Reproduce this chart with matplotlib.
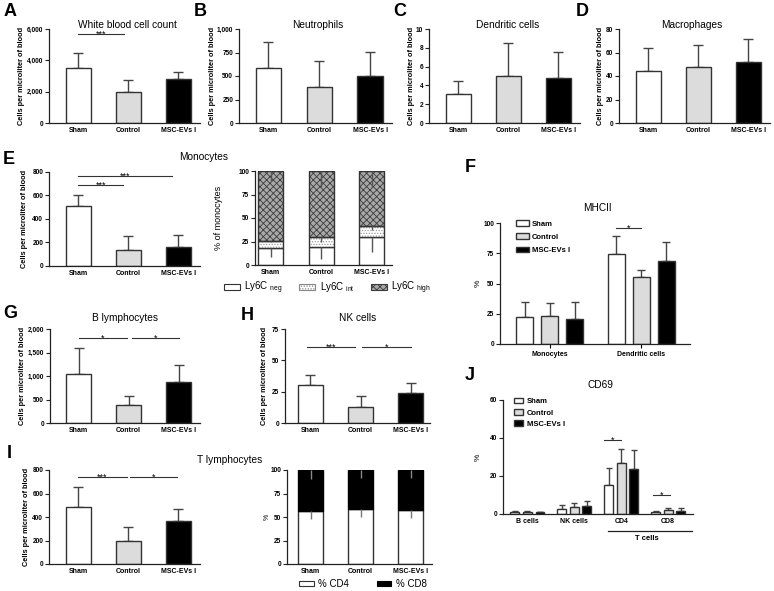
import numpy as np
import matplotlib
matplotlib.use('Agg')
import matplotlib.pyplot as plt
from matplotlib.patches import Patch

plt.rcParams['font.family'] = ['Liberation Sans', 'DejaVu Sans']
plt.rcParams['mathtext.fontset'] = 'custom'
plt.rcParams['mathtext.rm'] = 'Liberation Sans'
plt.rcParams['mathtext.default'] = 'regular'
plt.rcParams['hatch.linewidth'] = 0.6

# ---------------- data ----------------
groups = ['Sham', 'Control', 'MSC-EVs I']
wbc = [3490, 1950, 2790]
wbc_err = [970, 770, 470]
neut = [589, 385, 503]
neut_err = [278, 276, 251]
dc = [3.1, 5.05, 4.8]
dc_err = [1.4, 3.45, 2.75]
mac = [44, 47.5, 52]
mac_err = [20, 19, 19.5]
mono = [513, 134, 164]
mono_err = [89, 124, 97]
ly6c_neg = [18, 19, 30]
ly6c_int = [8, 11, 11]
ly6c_high = [74, 70, 59]
ly6c_neg_err = [10, 13, 16]
ly6c_int_err = [2, 5, 4]
ly6c_high_err = [11, 17, 17]
mhc_groups = ['Monocytes', 'Dendritic cells']
mhc_sham = [22, 74]
mhc_ctrl = [23, 55]
mhc_msc = [21, 69]
mhc_sham_err = [13, 15]
mhc_ctrl_err = [11, 6]
mhc_msc_err = [14, 15]
b_lym = [1040, 383, 872]
b_err = [550, 190, 360]
nk = [30, 12.8, 24]
nk_err = [8.5, 8.7, 8]
t_lym = [485, 196, 366]
t_err = [170, 120, 102]
cd4 = [56.7, 58.5, 57]
cd4_err = [8.5, 8.5, 8]
cd8 = [43.3, 41.5, 43]
cd8_err = [10, 9, 9]
cd69_groups = ['B cells', 'NK cells', 'CD4', 'CD8']
cd69_sham = [1.2, 2.6, 15.5, 1.3]
cd69_ctrl = [1.2, 3.6, 27, 1.9]
cd69_msc = [0.9, 4.3, 23.8, 1.7]
cd69_sham_err = [0.4, 2.1, 8.9, 0.5]
cd69_ctrl_err = [0.4, 2.3, 7, 1.4]
cd69_msc_err = [0.3, 2.6, 9.9, 1.4]

FILL = ['white', '#dcdcdc', 'black']
EDGE = '#333333'
ERRC = '#444444'

W, H = 774, 591
fig = plt.figure(figsize=(W / 100, H / 100), dpi=100)


def ax_at(x0, y0, x1, y1):
    ax = fig.add_axes([x0 / W, 1 - y1 / H, (x1 - x0) / W, (y1 - y0) / H])
    for s in ['top', 'right']:
        ax.spines[s].set_visible(False)
    for s in ['left', 'bottom']:
        ax.spines[s].set_linewidth(0.9)
        ax.spines[s].set_color('#222222')
    ax.tick_params(axis='y', length=3, width=0.8, labelsize=4.7, pad=1.2, color='#222222')
    ax.tick_params(axis='x', length=0, pad=3)
    ax._box = (x0, y0, x1, y1)
    return ax


def ftext(x, y, s, **kw):
    return fig.text(x / W, 1 - y / H, s, **kw)


def ylab(ax, x, s, bold=True, fs=5.3):
    x0, y0, x1, y1 = ax._box
    ftext(x, (y0 + y1) / 2, s, rotation=90, ha='center', va='center',
          fontsize=fs, fontweight='bold' if bold else 'normal')


def yticks(ax, ticks, labels, lim):
    ax.set_ylim(*lim)
    ax.set_yticks(ticks)
    ax.set_yticklabels(labels, fontweight='bold')


def sig(ax, x0, x1, y, s, fs=6.5):
    ax.plot([x0, x1], [y, y], color='#333333', lw=0.8, clip_on=False)
    ax.annotate(s, xy=((x0 + x1) / 2, y), xytext=(0, -1.8), textcoords='offset points',
                ha='center', va='baseline', fontsize=fs)


def simple(ax, vals, errs, xlim):
    x = np.arange(3)
    ax.errorbar(x, vals, yerr=[np.zeros(3), errs], fmt='none', ecolor=ERRC,
                elinewidth=1, capsize=3.5, capthick=1, zorder=1)
    ax.bar(x, vals, width=0.5, color=FILL, edgecolor=EDGE, linewidth=1, zorder=2)
    ax.set_xlim(*xlim)
    ax.set_xticks(x)
    ax.set_xticklabels(groups, fontsize=5, fontweight='bold')


XL = (-0.58, 2.43)

# ---------------- row 1 ----------------
axA = ax_at(49, 29, 200, 123)
simple(axA, wbc, wbc_err, XL)
yticks(axA, [0, 2000, 4000, 6000], ['0', '2,000', '4,000', '6,000'], (0, 6000))
sig(axA, 0, 0.92, 5680, '***')
ylab(axA, 22, 'Cells per microliter of blood')
ftext(127, 25, 'White blood cell count', fontsize=7.3, ha='center', va='center')
ftext(10, 12, 'A', fontsize=13, fontweight='bold', ha='center', va='center')

axB = ax_at(239, 29, 392, 123)
simple(axB, neut, neut_err, XL)
yticks(axB, [0, 250, 500, 750, 1000], ['0', '250', '500', '750', '1,000'], (0, 1000))
ylab(axB, 212, 'Cells per microliter of blood')
ftext(318, 25, 'Neutrophils', fontsize=7.3, ha='center', va='center')
ftext(200, 12, 'B', fontsize=13, fontweight='bold', ha='center', va='center')

axC = ax_at(429, 29, 580, 123)
simple(axC, dc, dc_err, XL)
yticks(axC, [0, 2, 4, 6, 8, 10], ['0', '2', '4', '6', '8', '10'], (0, 10))
ylab(axC, 411, 'Cells per microliter of blood')
ftext(508, 25, 'Dendritic cells', fontsize=7.3, ha='center', va='center')
ftext(400, 12, 'C', fontsize=13, fontweight='bold', ha='center', va='center')

axD = ax_at(619, 29, 770, 123)
simple(axD, mac, mac_err, XL)
yticks(axD, [0, 20, 40, 60, 80], ['0', '20', '40', '60', '80'], (0, 80))
ylab(axD, 600, 'Cells per microliter of blood')
ftext(692, 25, 'Macrophages', fontsize=7.3, ha='center', va='center')
ftext(582, 12, 'D', fontsize=13, fontweight='bold', ha='center', va='center')

# ---------------- E ----------------
axE = ax_at(49, 172, 200, 266)
simple(axE, mono, mono_err, XL)
yticks(axE, [0, 200, 400, 600, 800], ['0', '200', '400', '600', '800'], (0, 800))
sig(axE, 0, 0.9, 689, '***')
sig(axE, 0, 1.87, 766, '***')
ylab(axE, 25, 'Cells per microliter of blood')
ftext(204, 157, 'Monocytes', fontsize=7.3, ha='center', va='center')
ftext(9, 160, 'E', fontsize=13, fontweight='bold', ha='center', va='center')

axE2 = ax_at(255, 171, 392, 265)
x = np.arange(3)
neg = np.array(ly6c_neg, float)
inte = np.array(ly6c_int, float)
high = np.array(ly6c_high, float)
axE2.bar(x, neg, width=0.5, color='white', edgecolor=EDGE, linewidth=1, zorder=2)
axE2.bar(x, inte, bottom=neg, width=0.5, color='white', edgecolor='#9a9a9a',
         hatch='......', linewidth=0, zorder=2)
axE2.bar(x, high, bottom=neg + inte, width=0.5, color='#a8a8a8', edgecolor='#3c3c3c',
         hatch='xxxxx', linewidth=0, zorder=2)
axE2.bar(x, inte, bottom=neg, width=0.5, color='none', edgecolor=EDGE, linewidth=1, zorder=3)
axE2.bar(x, high, bottom=neg + inte, width=0.5, color='none', edgecolor=EDGE, linewidth=1, zorder=3)
axE2.errorbar(x, neg, yerr=[ly6c_neg_err, np.zeros(3)], fmt='none', ecolor='#555555', elinewidth=1, zorder=4)
axE2.errorbar(x, neg + inte, yerr=[ly6c_int_err, np.zeros(3)], fmt='none', ecolor='#555555', elinewidth=1, zorder=4)
axE2.errorbar(x, neg + inte + high, yerr=[ly6c_high_err, np.zeros(3)], fmt='none', ecolor='#555555', elinewidth=1, zorder=4)
axE2.set_xlim(-0.31, 2.4)
axE2.set_xticks(x)
axE2.set_xticklabels(groups, fontsize=5, fontweight='bold')
yticks(axE2, [0, 25, 50, 75, 100], ['0', '25', '50', '75', '100'], (0, 100))
ylab(axE2, 218, '% of monocytes', bold=False, fs=6.5)
hE = [Patch(facecolor='white', edgecolor=EDGE, linewidth=0.8),
      Patch(facecolor='white', edgecolor='#888888', hatch='......', linewidth=0.8),
      Patch(facecolor='#a8a8a8', edgecolor='#3c3c3c', hatch='xxxxx', linewidth=0.8)]
fig.legend(hE, ['Ly6C $_{neg}$', 'Ly6C $_{int}$', 'Ly6C $_{high}$'], loc='center left',
           bbox_to_anchor=(224 / W, 1 - 288 / H), ncol=3, frameon=False, fontsize=7,
           handlelength=1.6, handleheight=0.55, handletextpad=0.5, columnspacing=1.7,
           borderaxespad=0, borderpad=0)

# ---------------- F ----------------
axF = ax_at(500, 223, 690, 344)
gx = np.arange(2)
off = 0.272
wF = 0.185
for k, (v, e) in enumerate([(mhc_sham, mhc_sham_err), (mhc_ctrl, mhc_ctrl_err), (mhc_msc, mhc_msc_err)]):
    xs = gx + (k - 1) * off
    axF.errorbar(xs, v, yerr=[np.zeros(2), e], fmt='none', ecolor=ERRC, elinewidth=1,
                 capsize=3, capthick=1, zorder=1)
    axF.bar(xs, v, width=wF, color=FILL[k], edgecolor=EDGE, linewidth=1, zorder=2,
            label=groups[k])
axF.set_xlim(-0.54, 1.53)
axF.set_xticks(gx)
axF.set_xticklabels(mhc_groups, fontsize=5, fontweight='bold')
axF.tick_params(axis='x', length=3, width=0.8, pad=2)
yticks(axF, [0, 25, 50, 75, 100], ['0', '25', '50', '75', '100'], (0, 100))
sig(axF, 1 - off, 1, 96, '*')
leg = axF.legend(loc='upper left', bbox_to_anchor=(516 / W, 1 - 220 / H),
                 bbox_transform=fig.transFigure, frameon=False, fontsize=5.5,
                 handlelength=1.7, handleheight=0.8, handletextpad=0.4,
                 labelspacing=0.75, borderaxespad=0, borderpad=0)
for t in leg.get_texts():
    t.set_fontweight('bold')
ylab(axF, 478, '%', bold=False, fs=6)
ftext(597, 208, 'MHCII', fontsize=7.3, ha='center', va='center')
ftext(470, 168, 'F', fontsize=13, fontweight='bold', ha='center', va='center')

# ---------------- G ----------------
axG = ax_at(50, 329, 200, 423)
simple(axG, b_lym, b_err, XL)
yticks(axG, [0, 500, 1000, 1500, 2000], ['0', '500', '1,000', '1,500', '2,000'], (0, 2000))
sig(axG, 0, 0.97, 1800, '*')
sig(axG, 1.06, 2.0, 1800, '*')
ylab(axG, 23, 'Cells per microliter of blood')
ftext(125, 318, 'B lymphocytes', fontsize=7.3, ha='center', va='center')
ftext(10, 313, 'G', fontsize=13, fontweight='bold', ha='center', va='center')

# ---------------- H ----------------
axH = ax_at(285, 329, 430, 423)
simple(axH, nk, nk_err, (-0.5, 2.38))
yticks(axH, [0, 25, 50, 75], ['0', '25', '50', '75'], (0, 75))
sig(axH, -0.06, 0.9, 60.6, '***')
sig(axH, 1.03, 2.0, 60.6, '*')
ylab(axH, 264, 'Cells per microliter of blood')
ftext(358, 318, 'NK cells', fontsize=7.3, ha='center', va='center')
ftext(247, 316, 'H', fontsize=13, fontweight='bold', ha='center', va='center')

# ---------------- I ----------------
axI = ax_at(49, 470, 200, 564)
simple(axI, t_lym, t_err, XL)
yticks(axI, [0, 200, 400, 600, 800], ['0', '200', '400', '600', '800'], (0, 800))
sig(axI, 0, 0.97, 740, '***')
sig(axI, 1.03, 1.97, 740, '*')
ylab(axI, 27, 'Cells per microliter of blood')
ftext(230, 460, 'T lymphocytes', fontsize=7.3, ha='center', va='center')
ftext(9, 453, 'I', fontsize=13, fontweight='bold', ha='center', va='center')

axI2 = ax_at(287, 470, 432, 564)
c4 = np.array(cd4, float)
c8 = np.array(cd8, float)
axI2.bar(x, c4, width=0.5, color='white', edgecolor=EDGE, linewidth=1, zorder=2)
axI2.bar(x, c8, bottom=c4, width=0.5, color='black', edgecolor='black', linewidth=1, zorder=2)
axI2.errorbar(x, c4, yerr=[cd4_err, np.zeros(3)], fmt='none', ecolor='#777777', elinewidth=1, zorder=3)
axI2.errorbar(x, c4 + c8, yerr=[cd8_err, np.zeros(3)], fmt='none', ecolor='#888888', elinewidth=1, zorder=3)
axI2.set_xlim(-0.47, 2.43)
axI2.set_xticks(x)
axI2.set_xticklabels(groups, fontsize=5, fontweight='bold')
yticks(axI2, [0, 25, 50, 75, 100], ['0', '25', '50', '75', '100'], (0, 100))
ylab(axI2, 267, '%', bold=False, fs=5)
hI = [Patch(facecolor='white', edgecolor=EDGE, linewidth=0.8),
      Patch(facecolor='black', edgecolor='black', linewidth=0.8)]
fig.legend(hI, ['% CD4', '% CD8'], loc='center left', bbox_to_anchor=(299 / W, 1 - 584 / H),
           ncol=2, frameon=False, fontsize=7, handlelength=1.5, handleheight=0.5,
           handletextpad=0.5, columnspacing=2.8, borderaxespad=0, borderpad=0)

# ---------------- J ----------------
axJ = ax_at(503, 400, 693, 514)
jx = np.arange(4)
offJ = 0.268
wJ = 0.19
for k, (v, e) in enumerate([(cd69_sham, cd69_sham_err), (cd69_ctrl, cd69_ctrl_err), (cd69_msc, cd69_msc_err)]):
    xs = jx + (k - 1) * offJ
    axJ.errorbar(xs, v, yerr=[np.zeros(4), e], fmt='none', ecolor=ERRC, elinewidth=1,
                 capsize=2.5, capthick=1, zorder=1)
    axJ.bar(xs, v, width=wJ, color=FILL[k], edgecolor=EDGE, linewidth=1, zorder=2,
            label=groups[k])
axJ.set_xlim(-0.52, 3.53)
axJ.set_xticks(jx)
axJ.set_xticklabels(cd69_groups, fontsize=5, fontweight='bold')
axJ.tick_params(axis='x', length=0, pad=3)
yticks(axJ, [0, 20, 40, 60], ['0', '20', '40', '60'], (0, 60))
sig(axJ, 2 - offJ - wJ / 2, 2, 38.9, '*')
sig(axJ, 3 - offJ - wJ / 4, 3 + 0.03, 9.8, '*')
legJ = axJ.legend(loc='upper left', bbox_to_anchor=(514 / W, 1 - 398 / H),
                  bbox_transform=fig.transFigure, frameon=False, fontsize=5.5,
                  handlelength=1.2, handleheight=0.7, handletextpad=0.5,
                  labelspacing=0.5, borderaxespad=0, borderpad=0)
for t in legJ.get_texts():
    t.set_fontweight('bold')
axJ.plot([1.71, 3.5], [-0.149 * 60, -0.149 * 60], color='#222222', lw=0.9, clip_on=False)
axJ.text(2.55, -0.215 * 60, 'T cells', fontsize=5.5, fontweight='bold', ha='center', va='center')
ylab(axJ, 478, '%', bold=False, fs=6)
ftext(600, 385, 'CD69', fontsize=7.3, ha='center', va='center')
ftext(470, 375, 'J', fontsize=13, fontweight='bold', ha='center', va='center')

fig.savefig('out.png', dpi=100)
